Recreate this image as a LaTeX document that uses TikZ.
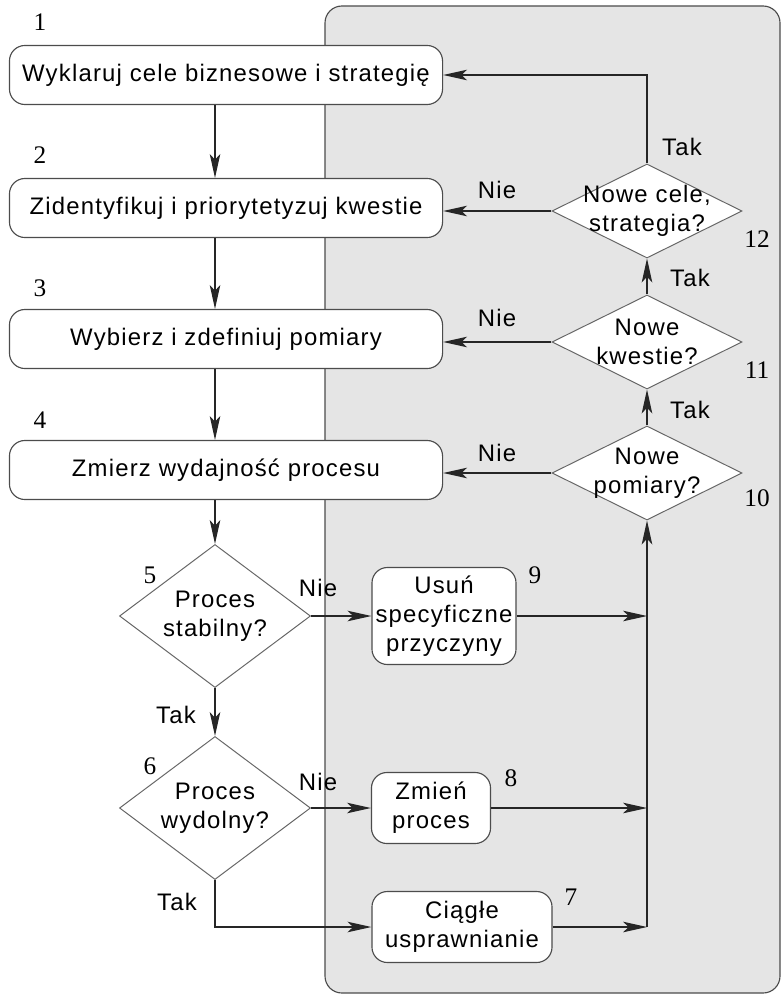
\documentclass[tikz,border=0pt]{standalone}
\usepackage{fontspec}
\setmainfont{Liberation Sans}[LetterSpace=5]
\newfontfamily\numfont{Liberation Serif}
\usepackage{tikz}
\usetikzlibrary{shapes.geometric}
\usetikzlibrary{arrows.meta}
\usetikzlibrary{shapes.geometric, arrows,positioning,calc}

\tikzset{
	box/.style={draw=black!70, line width=0.8pt, rounded corners=11pt, fill=white, align=center, inner sep=0pt, font=\fontsize{17}{20.5}\selectfont},
	dec/.style={draw=black!60, line width=0.7pt, diamond, fill=white, inner sep=0pt},
	lab/.style={font=\fontsize{17}{20.5}\selectfont, inner sep=0pt},
	num/.style={font=\numfont\fontsize{18}{20}\selectfont, inner sep=0pt},
	arr/.style={line width =0.9pt, draw=black!85, -{Stealth[length=17pt,width=7.5pt,inset=4pt]}}
}

\begin{document}
\begin{tikzpicture}[x=0.025cm, y=-0.025cm]
	\useasboundingbox (0,0) rectangle (782,998);
	\draw [draw=black!70, fill=black!10, rounded corners=12pt, line width=0.8pt] (325,6) rectangle (780,993);
	% glowna kolumna
	\node [box, minimum width=10.825cm, minimum height=1.475cm] (b1) at (226,75) {Wyklaruj cele biznesowe i strategię};
	\node [box, minimum width=10.825cm, minimum height=1.475cm] (b2) at (226,208) {Zidentyfikuj i priorytetyzuj kwestie};
	\node [box, minimum width=10.825cm, minimum height=1.475cm] (b3) at (226,339) {Wybierz i zdefiniuj pomiary};
	\node [box, minimum width=10.825cm, minimum height=1.475cm] (b4) at (226,470) {Zmierz wydajność procesu};
	\node [dec, minimum width=4.775cm, minimum height=3.575cm, label={[lab,align=center]center:{Proces\\stabilny?}}] (d5) at (215,616) {};
	\node [dec, minimum width=4.775cm, minimum height=3.575cm, label={[lab,align=center]center:{Proces\\wydolny?}}] (d6) at (215,808) {};
	% dzialania
	\node [box, minimum width=3.6cm, minimum height=2.425cm] (b9) at (444,616) {Usuń\\specyficzne\\przyczyny};
	\node [box, minimum width=2.975cm, minimum height=1.775cm] (b8) at (431,808) {Zmień\\proces};
	\node [box, minimum width=4.5cm, minimum height=1.775cm] (b7) at (462,927) {Ciągłe\\usprawnianie};
	% petla zwrotna
	\node [dec, minimum width=4.75cm, minimum height=2.35cm, label={[lab,align=center]center:{Nowe\\pomiary?}}] (d10) at (647,473) {};
	\node [dec, minimum width=4.75cm, minimum height=2.35cm, label={[lab,align=center]center:{Nowe\\kwestie?}}] (d11) at (647,342) {};
	\node [dec, minimum width=4.75cm, minimum height=2.35cm, label={[lab,align=center]center:{Nowe cele,\\strategia?}}] (d12) at (647,211) {};

	\draw [arr] (b1.south -| d5.north) -- (b2.north -| d5.north);
	\draw [arr] (b2.south -| d5.north) -- (b3.north -| d5.north);
	\draw [arr] (b3.south -| d5.north) -- (b4.north -| d5.north);
	\draw [arr] (b4.south -| d5.north) -- (d5.north);
	\draw [arr] (d5.east) -- (b9.west);
	\draw [arr] (d5.south) -- (d6.north);
	\draw [arr] (d6.east) -- (b8.west);
	\draw [arr] (d6.south) |- (b7.west);
	\draw [arr] (b9.east) -- (b9.east -| d10.south);
	\draw [arr] (b8.east) -- (b8.east -| d10.south);
	\draw [arr] (b7.east) -- (b7.east -| d10.south);
	\draw [arr] (b7.east -| d10.south) -- (d10.south);
	\draw [arr] (d10.west) -- (d10.west -| b4.east);
	\draw [arr] (d11.west) -- (d11.west -| b3.east);
	\draw [arr] (d12.west) -- (d12.west -| b2.east);
	\draw [arr] (d10.north) -- (d11.south);
	\draw [arr] (d11.north) -- (d12.south);
	\draw [arr] (d12.north) |- (b1.east);

	\node [lab] (nie5) at (318,588) {Nie};
	\node [lab] (nie6) at (318,782) {Nie};
	\node [lab] (tak5) at (176,715) {Tak};
	\node [lab] (tak6) at (177,902) {Tak};
	\node [lab] (nie10) at (497,453) {Nie};
	\node [lab] (nie11) at (497,318) {Nie};
	\node [lab] (nie12) at (497,190) {Nie};
	\node [lab] (tak10) at (690,410) {Tak};
	\node [lab] (tak11) at (690,278) {Tak};
	\node [lab] (tak12) at (682,147) {Tak};

	\node [num] (n1) at (40,22) {1};
	\node [num] (n2) at (40,155) {2};
	\node [num] (n3) at (40,288) {3};
	\node [num] (n4) at (40,420) {4};
	\node [num] (n5) at (150,575) {5};
	\node [num] (n6) at (150,766) {6};
	\node [num] (n7) at (571,897) {7};
	\node [num] (n8) at (511,778) {8};
	\node [num] (n9) at (535,575) {9};
	\node [num] (n10) at (757,498) {10};
	\node [num] (n11) at (757,370) {11};
	\node [num] (n12) at (757,239) {12};
%	\draw [dashed] (d6.south) -- (b7.west);
\end{tikzpicture}
\end{document}
